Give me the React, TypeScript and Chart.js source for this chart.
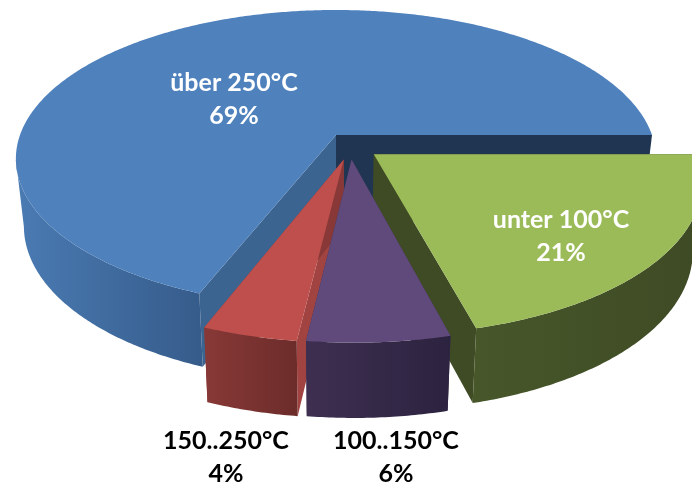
import React, { useEffect, useRef } from "react";
import { Chart, registerables } from "chart.js";

Chart.register(...registerables);

const categories = ["unter 100°C", "100..150°C", "150..250°C", "über 250°C"];
const shares = [21, 6, 4, 69];
const topColors = ["#9BBB59", "#604A7B", "#BE4F4C", "#4F81BD"];

// Wall shades per slice: outer wall gradient (left, right) and the two radial cut faces.
const outerWallLeft = ["#47572A", "#3E2F50", "#883937", "#4A7BB3"];
const outerWallRight = ["#3E4A24", "#2C2340", "#6C2C2A", "#365C8B"];
const startFace = ["#3F4B25", "#3D2E4E", "#A14341", "#3C6491"];
const endFace = ["#3F4B25", "#3D2E4E", "#883937", "#1F3552"];

// Explosion of each slice in unit-radius ground coordinates.
const shiftX = [0.117, 0.048, 0.024, 0];
const shiftY = [0.13, 0.165, 0.165, 0];

// Back-to-front paint order, by slice index.
const paintOrder = [3, 2, 0, 1];

// Perspective camera for the tilted disc.
const CX = 336;
const CY = 135;
const RX = 316;
const RY = 145;
const PERSP = 0.16;
const SHRINK = 0.975;
const DEPTH = 66;
const DEPTH_SLOPE = 8;

type Pt = [number, number];

const topPoint = (X: number, Y: number): Pt => {
  const w = 1 - PERSP * Y;
  return [CX + (RX * X) / w, CY + (RY * Y) / w];
};
const lowPoint = (X: number, Y: number): Pt => {
  const [x, y] = topPoint(X, Y);
  return [CX + (x - CX) * SHRINK, y + DEPTH + DEPTH_SLOPE * Y];
};

const fillPoly = (ctx: CanvasRenderingContext2D, pts: Pt[], fill: string | CanvasGradient) => {
  ctx.beginPath();
  pts.forEach(([x, y], i) => (i ? ctx.lineTo(x, y) : ctx.moveTo(x, y)));
  ctx.closePath();
  ctx.fillStyle = fill;
  ctx.fill();
};

const sweep = (start: number, end: number): number[] => {
  const n = Math.max(2, Math.ceil((end - start) / 0.01));
  const out: number[] = [];
  for (let i = 0; i <= n; i++) out.push(start + ((end - start) * i) / n);
  return out;
};

const tiltedPie = {
  id: "tiltedPie",
  beforeDatasetDraw(chart: Chart) {
    const ctx = chart.ctx;
    const arcs = chart.getDatasetMeta(0).data as any[];
    ctx.save();
    for (const i of paintOrder) {
      const arc = arcs[i];
      const ox = shiftX[i];
      const oy = shiftY[i];
      const at = (t: number): Pt => [ox + Math.cos(t), oy + Math.sin(t)];
      const angles = sweep(arc.startAngle, arc.endAngle);

      // Radial cut faces
      const hubTop = topPoint(ox, oy);
      const hubLow = lowPoint(ox, oy);
      const [sx, sy] = at(arc.startAngle);
      const [ex, ey] = at(arc.endAngle);
      fillPoly(ctx, [hubTop, topPoint(sx, sy), lowPoint(sx, sy), hubLow], startFace[i]);
      fillPoly(ctx, [hubTop, topPoint(ex, ey), lowPoint(ex, ey), hubLow], endFace[i]);

      // Outer wall, from silhouette to silhouette across the front
      const front = angles.filter((t) => Math.sin(t) > PERSP);
      if (front.length > 1) {
        const upper = front.map((t) => topPoint(...at(t)));
        const lower = front.map((t) => lowPoint(...at(t))).reverse();
        const xs = upper.map((p) => p[0]);
        const grad = ctx.createLinearGradient(Math.min(...xs), 0, Math.max(...xs), 0);
        grad.addColorStop(0, outerWallLeft[i]);
        grad.addColorStop(1, outerWallRight[i]);
        fillPoly(ctx, [...upper, ...lower], grad);
      }

      // Top face
      fillPoly(ctx, [hubTop, ...angles.map((t) => topPoint(...at(t)))], arc.options.backgroundColor);
    }
    ctx.restore();
    return false;
  },
  afterDatasetsDraw(chart: Chart) {
    const ctx = chart.ctx;
    ctx.save();
    ctx.font = "bold 25px Lato";
    ctx.textAlign = "center";
    ctx.textBaseline = "middle";
    const spots: [number, number, string][] = [
      [561, 220, "#FFFFFF"],
      [396, 441, "#000000"],
      [226, 441, "#000000"],
      [234, 83, "#FFFFFF"],
    ];
    categories.forEach((name, i) => {
      const [x, y, color] = spots[i];
      ctx.fillStyle = color;
      ctx.fillText(name, x, y);
      ctx.fillText(`${shares[i]}%`, x, y + 33);
    });
    ctx.restore();
  },
};

export default function App() {
  const ref = useRef<HTMLCanvasElement>(null);
  useEffect(() => {
    const chart = new Chart(ref.current!, {
      type: "pie",
      data: {
        labels: categories,
        datasets: [{ data: shares, backgroundColor: topColors, borderWidth: 0 }],
      },
      options: {
        responsive: false,
        animation: false,
        rotation: 90,
        plugins: { legend: { display: false }, tooltip: { enabled: false } },
      },
      plugins: [tiltedPie],
    } as any);
    return () => chart.destroy();
  }, []);
  return (
    <div style={{ position: "absolute", left: 0, top: 0, background: "#fff" }}>
      <canvas ref={ref} width={692} height={484} style={{ display: "block" }} />
    </div>
  );
}
